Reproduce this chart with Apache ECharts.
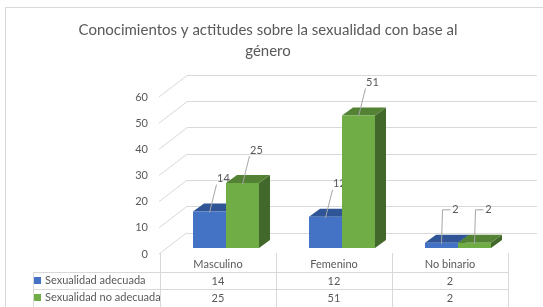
<!DOCTYPE html>
<html>
<head>
<meta charset="utf-8">
<script src="https://cdn.jsdelivr.net/npm/echarts@6/dist/echarts.min.js"></script>
<style>
html,body{margin:0;padding:0;background:#fff;}
#c{width:543px;height:307px;}
</style>
</head>
<body>
<div id="c"></div>
<script>
const categories = ['Masculino', 'Femenino', 'No binario'];
const seriesNames = ['Sexualidad adecuada', 'Sexualidad no adecuada'];
const adecuada = [14, 12, 2];
const noAdecuada = [25, 51, 2];
const yTicks = [0, 10, 20, 30, 40, 50, 60];
const titleText = 'Conocimientos y actitudes sobre la sexualidad con base al\ngénero';

const FONT = 'Lato';
const TXT = '#595959';
const GRIDC = '#d9d9d9';
const colors = [
  {front: '#4472C4', top: '#2F5597', side: '#264478'},
  {front: '#70AD47', top: '#548235', side: '#43682B'}
];
const DX = 11, DY = 8, BW = 33;

const chart = echarts.init(document.getElementById('c'), null, {renderer: 'canvas'});

function barSeries(si, values) {
  return {
    type: 'custom',
    name: seriesNames[si],
    xAxisIndex: 2, yAxisIndex: 2,
    itemStyle: {color: colors[si].front},
    data: values.map((v, i) => [i, v]),
    z: 10 + si,
    renderItem(params, api) {
      const ci = api.value(0), v = api.value(1);
      const base = api.coord([ci, 0]);
      const top = api.coord([ci, v]);
      const x0 = base[0] - BW + si * BW, x1 = x0 + BW;
      const y0 = base[1], y1 = top[1];
      const c = colors[si];
      const cx = (x0 + x1) / 2;
      const lx = cx + 14, ly = y1 - 33;
      let leader;
      if (v < 5) {
        leader = [[cx, y1 + 1], [cx + 1, ly], [lx - 5, ly]];
      } else {
        leader = [[cx, y1 + 1], [lx - 7, ly + 6]];
      }
      return {
        type: 'group',
        children: [
          {type: 'polygon', shape: {points: [[x1, y0], [x1 + DX, y0 - DY], [x1 + DX, y1 - DY], [x1, y1]]}, style: {fill: c.side}},
          {type: 'polygon', shape: {points: [[x0, y1], [x0 + DX, y1 - DY], [x1 + DX, y1 - DY], [x1, y1]]}, style: {fill: c.top}},
          {type: 'rect', shape: {x: x0, y: y1, width: BW, height: y0 - y1}, style: {fill: c.front}},
          {type: 'polyline', shape: {points: leader}, style: {stroke: '#a6a6a6', lineWidth: 1, fill: null}, z2: 20},
          {type: 'text', x: lx, y: ly, style: {text: String(v), fill: TXT, font: '11px ' + FONT, align: 'center', verticalAlign: 'middle'}, z2: 21}
        ]
      };
    }
  };
}

const tableCells = [];
categories.forEach((c, i) => {
  tableCells.push([i, 0, c]);
  tableCells.push([i, 1, String(adecuada[i])]);
  tableCells.push([i, 2, String(noAdecuada[i])]);
});

function legendFor(si, top) {
  return {
    data: [{name: seriesNames[si], itemStyle: {color: colors[si].front}}],
    left: 34, top: top, padding: 0,
    itemWidth: 7, itemHeight: 7, itemGap: 4, icon: 'rect',
    selectedMode: false,
    textStyle: {fontFamily: FONT, fontSize: 11, color: TXT, padding: [0, 0, 0, -1]}
  };
}

const option = {
  animation: false,
  backgroundColor: '#fff',
  title: {
    text: titleText,
    left: 263, top: 15, textAlign: 'center',
    textStyle: {fontFamily: FONT, fontSize: 15, fontWeight: 'normal', color: TXT, lineHeight: 21}
  },
  legend: [legendFor(0, 275), legendFor(1, 292)],
  grid: [
    {left: 187, right: 6, top: 75, bottom: 74},
    {left: 159, right: 6, top: 97, bottom: 53},
    {left: 168, width: 348, top: 92, bottom: 59},
    {left: 160, width: 348, top: 256, height: 51}
  ],
  xAxis: [
    {gridIndex: 0, type: 'category', data: categories, show: false},
    {gridIndex: 1, type: 'category', data: categories, show: false},
    {gridIndex: 2, type: 'category', data: categories, show: false},
    {gridIndex: 3, type: 'category', data: categories, show: false}
  ],
  yAxis: [
    {gridIndex: 0, type: 'value', min: 0, max: 60, interval: 10,
      axisLabel: {show: false}, axisLine: {show: false}, axisTick: {show: false},
      splitLine: {show: true, lineStyle: {color: GRIDC, width: 1}}},
    {gridIndex: 1, type: 'value', min: 0, max: 60, interval: 10,
      axisLabel: {show: true, color: TXT, fontFamily: FONT, fontSize: 11, margin: 11},
      axisLine: {show: false}, axisTick: {show: false}, splitLine: {show: false}},
    {gridIndex: 2, type: 'value', min: 0, max: 60, show: false},
    {gridIndex: 3, type: 'category', data: ['h', 'r1', 'r2'], inverse: true, show: false}
  ],
  graphic: [
    {type: 'line', shape: {x1: 33, y1: 272.5, x2: 508, y2: 272.5}, style: {stroke: GRIDC, lineWidth: 1}},
    {type: 'line', shape: {x1: 33, y1: 289.5, x2: 508, y2: 289.5}, style: {stroke: GRIDC, lineWidth: 1}},
    {type: 'line', shape: {x1: 33.5, y1: 272, x2: 33.5, y2: 307}, style: {stroke: GRIDC, lineWidth: 1}},
    {type: 'line', shape: {x1: 160.5, y1: 253, x2: 160.5, y2: 307}, style: {stroke: GRIDC, lineWidth: 1}},
    {type: 'line', shape: {x1: 276.5, y1: 253, x2: 276.5, y2: 307}, style: {stroke: GRIDC, lineWidth: 1}},
    {type: 'line', shape: {x1: 392.5, y1: 253, x2: 392.5, y2: 307}, style: {stroke: GRIDC, lineWidth: 1}},
    {type: 'line', shape: {x1: 508.5, y1: 253, x2: 508.5, y2: 307}, style: {stroke: GRIDC, lineWidth: 1}},
    {type: 'line', shape: {x1: 5.5, y1: 8, x2: 5.5, y2: 307}, style: {stroke: GRIDC, lineWidth: 1}},
    {type: 'line', shape: {x1: 5, y1: 7.5, x2: 543, y2: 7.5}, style: {stroke: GRIDC, lineWidth: 1}}
  ],
  series: [
    {
      type: 'custom',
      xAxisIndex: 1, yAxisIndex: 1,
      data: yTicks.map(t => [0, t]),
      silent: true,
      renderItem(params, api) {
        const p = api.coord([0, api.value(1)]);
        const x = params.coordSys.x;
        return {type: 'line', shape: {x1: x, y1: p[1], x2: x + 28, y2: p[1] - 21.5}, style: {stroke: GRIDC, lineWidth: 1}};
      }
    },
    barSeries(0, adecuada),
    barSeries(1, noAdecuada),
    {
      type: 'custom',
      xAxisIndex: 3, yAxisIndex: 3,
      data: tableCells,
      silent: true,
      renderItem(params, api) {
        const p = api.coord([api.value(0), api.value(1)]);
        return {type: 'text', x: p[0], y: p[1], style: {text: tableCells[params.dataIndex][2], fill: TXT, font: '11px ' + FONT, align: 'center', verticalAlign: 'middle'}};
      }
    }
  ]
};
chart.setOption(option);
</script>
</body>
</html>
